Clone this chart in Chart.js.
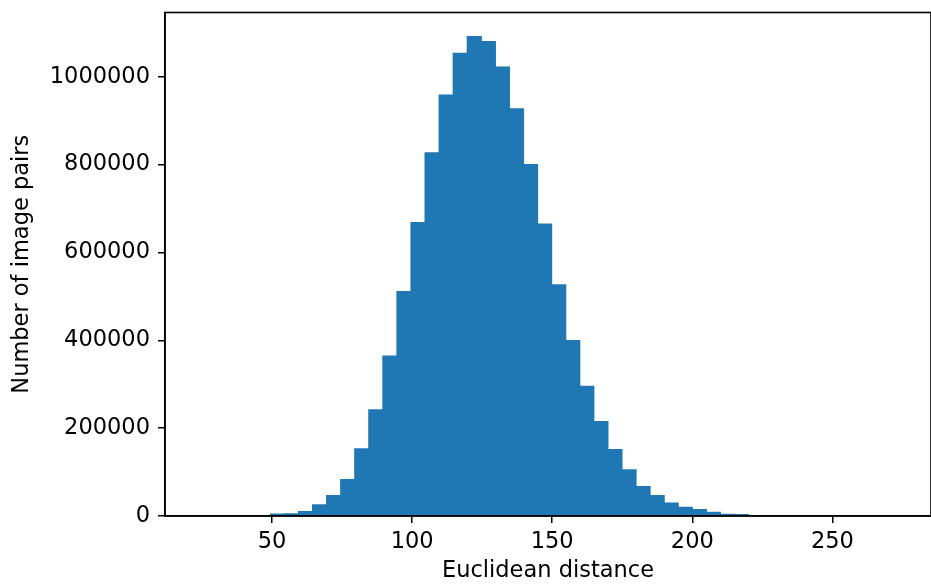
<!DOCTYPE html>
<html>
<head>
<meta charset="utf-8">
<title>Euclidean distance histogram</title>
<script src="https://cdn.jsdelivr.net/npm/chart.js@4.4.1/dist/chart.umd.min.js"></script>
<style>
  html, body { margin: 0; padding: 0; background: #fff; }
</style>
</head>
<body>
<canvas id="histChart" width="931" height="585"></canvas>
<script>
// histogram bins (centre of each bin, Euclidean distance)
const binCenters = [
  51.91, 56.93, 61.95, 66.97, 71.99, 77.01, 82.03, 87.05, 92.07, 97.09,
  102.11, 107.13, 112.15, 117.17, 122.19, 127.21, 132.23, 137.25, 142.27, 147.29,
  152.31, 157.33, 162.35, 167.37, 172.39, 177.41, 182.43, 187.45, 192.47, 197.49,
  202.51, 207.53, 212.55, 217.57
];
// number of image pairs in each bin
const pairCounts = [
  5500, 6500, 11400, 26600, 47800, 84300, 154200, 243000, 365100, 512400,
  669500, 828300, 959500, 1054400, 1092500, 1081100, 1023200, 928500, 801600, 665700,
  527700, 400800, 296300, 216400, 152600, 106400, 68300, 47800, 31000, 21200,
  15900, 9800, 5200, 4400
];
const xTicks = [50, 100, 150, 200, 250];
const yTicks = [0, 200000, 400000, 600000, 800000, 1000000];

const font = { family: 'DejaVu Sans', size: 22.5 };

// matplotlib-like frame round the plot area
const frame = {
  id: 'frame',
  afterDraw(chart) {
    const { ctx, chartArea } = chart;
    ctx.save();
    ctx.strokeStyle = '#000';
    ctx.lineWidth = 1.6;
    ctx.strokeRect(chartArea.left, chartArea.top, chartArea.right - chartArea.left, chartArea.bottom - chartArea.top);
    ctx.restore();
  }
};

const ctx = document.getElementById('histChart').getContext('2d');

new Chart(ctx, {
  type: 'bar',
  data: {
    datasets: [{
      data: binCenters.map((x, i) => ({ x: x, y: pairCounts[i] })),
      backgroundColor: '#1f77b4',
      borderWidth: 0,
      barPercentage: 1.08,
      categoryPercentage: 1
    }]
  },
  options: {
    responsive: false,
    animation: false,
    devicePixelRatio: 1,
    layout: { padding: { top: 12.5, right: 0, bottom: 0, left: 0 } },
    plugins: {
      legend: { display: false },
      tooltip: { enabled: false }
    },
    scales: {
      x: {
        type: 'linear',
        min: 11.8,
        max: 285.2,
        offset: false,
        afterBuildTicks: s => { s.ticks = xTicks.map(v => ({ value: v })); },
        afterFit: s => { s.height = 69; s.paddingLeft = 0; s.paddingRight = 0; },
        grid: { offset: false, drawOnChartArea: false, tickLength: 7, color: '#000', lineWidth: 1.5 },
        border: { color: '#000', width: 1.6 },
        ticks: { color: '#000', font: font, padding: 6, maxRotation: 0, autoSkip: false },
        title: { display: true, text: 'Euclidean distance', color: '#000', font: font, padding: { top: 0, bottom: 0 } }
      },
      y: {
        min: 0,
        max: 1146200,
        afterBuildTicks: s => { s.ticks = yTicks.map(v => ({ value: v })); },
        afterFit: s => { s.width = 165; s.paddingTop = 0; s.paddingBottom = 0; },
        grid: { drawOnChartArea: false, tickLength: 7, color: '#000', lineWidth: 1.5 },
        border: { color: '#000', width: 1.6 },
        ticks: { color: '#000', font: font, padding: 8, callback: v => String(v) },
        title: { display: true, text: 'Number of image pairs', color: '#000', font: font, padding: { top: 9, bottom: 0 } }
      }
    }
  },
  plugins: [frame]
});
</script>
</body>
</html>
